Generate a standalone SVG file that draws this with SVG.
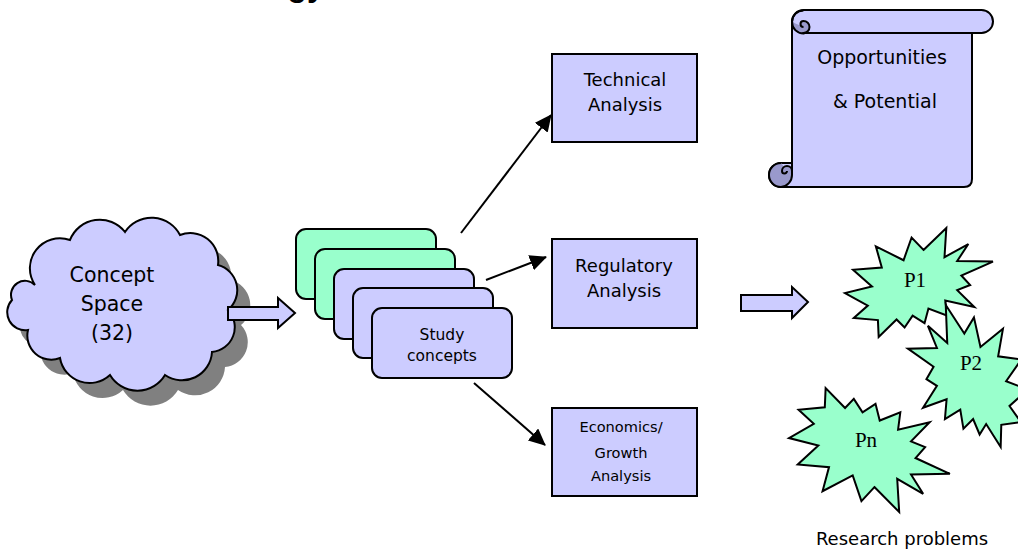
<svg xmlns="http://www.w3.org/2000/svg" width="1018" height="552" viewBox="0 0 1018 552">
<defs>
<style>
.box{fill:#CCCCFF;stroke:#000;stroke-width:2}
.card{stroke:#000;stroke-width:2}
.t{font-family:"DejaVu Sans",Verdana,sans-serif;fill:#000;text-anchor:middle}
.s{font-family:"Liberation Serif","Times New Roman",serif;fill:#000;text-anchor:middle;font-size:21px}
.burst{fill:#99FFCC;stroke:#000;stroke-width:2;stroke-linejoin:miter}
.conn{stroke:#000;stroke-width:2;fill:none;marker-end:url(#ah)}
.blk{fill:#CCCCFF;stroke:#000;stroke-width:2;stroke-linejoin:miter}
</style>
<marker id="ah" markerUnits="userSpaceOnUse" markerWidth="18" markerHeight="16" refX="16" refY="8" orient="auto">
<path d="M0,0 L17,8 L0,16 Z" fill="#000"/>
</marker>
</defs>
<rect width="1018" height="552" fill="#fff"/>

<text x="268" y="-4" style="font-family:'Liberation Sans',Arial,sans-serif;font-weight:bold;font-size:32px">ogy</text>

<g id="cloud">
<path transform="translate(13,15)" fill="#808080" d="M35,285 A30,30 0 0 1 70,240 A32,32 0 0 1 125,232 A32,32 0 0 1 180,235 A28,28 0 0 1 218,265 A26,26 0 0 1 228,310 A25,25 0 0 1 212,352 A30,30 0 0 1 165,375 A32,32 0 0 1 110,375 A30,30 0 0 1 60,358 A24,24 0 0 1 28,330 A18,18 0 0 1 12,300 A14,14 0 0 1 35,285 Z"/>
<path fill="#CCCCFF" stroke="#000" stroke-width="2" d="M35,285 A30,30 0 0 1 70,240 A32,32 0 0 1 125,232 A32,32 0 0 1 180,235 A28,28 0 0 1 218,265 A26,26 0 0 1 228,310 A25,25 0 0 1 212,352 A30,30 0 0 1 165,375 A32,32 0 0 1 110,375 A30,30 0 0 1 60,358 A24,24 0 0 1 28,330 A18,18 0 0 1 12,300 A14,14 0 0 1 35,285 Z"/>
<text class="t" font-size="20.5" x="112" y="282">Concept</text>
<text class="t" font-size="20.5" x="112" y="311">Space</text>
<text class="t" font-size="20.5" x="112" y="340">(32)</text>
</g>

<g id="arrow-cloud-stack">
<path class="blk" d="M228,307 L278,307 L278,298 L295,313 L278,328 L278,320 L228,320 Z"/>
</g>

<g id="study-concepts">
<rect class="card" fill="#99FFCC" x="296" y="229" width="140" height="70" rx="10"/>
<rect class="card" fill="#99FFCC" x="315" y="249" width="140" height="70" rx="10"/>
<rect class="card" fill="#CCCCFF" x="334" y="269" width="140" height="70" rx="10"/>
<rect class="card" fill="#CCCCFF" x="353" y="288" width="140" height="70" rx="10"/>
<rect class="card" fill="#CCCCFF" x="372" y="308" width="140" height="70" rx="10"/>
<text class="t" font-size="15.5" x="442" y="340">Study</text>
<text class="t" font-size="15.5" x="442" y="361">concepts</text>
</g>

<g id="connectors">
<line class="conn" x1="461" y1="233" x2="551" y2="115"/>
<line class="conn" x1="486" y1="280" x2="546" y2="257"/>
<line class="conn" x1="474" y1="383" x2="545" y2="445"/>
</g>

<g id="technical">
<rect class="box" x="552" y="54" width="145" height="88"/>
<text class="t" font-size="18" x="625" y="86">Technical</text>
<text class="t" font-size="18" x="625" y="111">Analysis</text>
</g>

<g id="regulatory">
<rect class="box" x="552" y="239" width="145" height="89"/>
<text class="t" font-size="18" x="624" y="272">Regulatory</text>
<text class="t" font-size="18" x="624" y="297">Analysis</text>
</g>

<g id="economics">
<rect class="box" x="552" y="408" width="145" height="88"/>
<text class="t" font-size="14.6" x="621" y="432">Economics/</text>
<text class="t" font-size="14.6" x="621" y="458">Growth</text>
<text class="t" font-size="14.6" x="621" y="481">Analysis</text>
</g>

<g id="scroll">
<path fill="#CCCCFF" stroke="#000" stroke-width="2" d="M792,22 L792,163 L781,163 A12,12 0 0 0 781,187 L964,187 Q972,187 972,179 L972,33"/>
<rect x="792" y="10" width="201" height="23" rx="11.5" fill="#CCCCFF" stroke="#000" stroke-width="2"/>
<path fill="#9999CC" stroke="#000" stroke-width="2" d="M792,22 A11.5,11.5 0 0 0 803.5,33.5 L803.5,33 A6,6 0 0 0 803.5,21 A3,3 0 0 0 803.5,27"/>
<path fill="none" stroke="#000" stroke-width="2" d="M792,22 A11.5,11.5 0 0 1 803.5,10.5"/>
<path fill="#9999CC" stroke="#000" stroke-width="2" d="M781,163 A12,12 0 0 0 781,187 A12,12 0 0 0 792,175 L792,171 A5,5 0 0 0 782,171 A2.5,2.5 0 0 0 787,171"/>
<path fill="none" stroke="#000" stroke-width="2" d="M792,175 L792,163"/>
<text class="t" font-size="19" x="882" y="64">Opportunities</text>
<text class="t" font-size="19" x="885" y="108">&amp; Potential</text>
</g>

<g id="arrow-to-problems">
<path class="blk" d="M741,295 L792,295 L792,287 L808,302 L792,318 L792,311 L741,311 Z"/>
</g>

<g id="p1">
<polygon class="burst" vector-effect="non-scaling-stroke" transform="translate(845,228) scale(0.685,0.505)" points="114.62,43.42 147.9,0 145.25,57.77 180.07,31.72 163.8,65.32 216,66.45 169.85,94.02 182.7,112.9 163.8,123.1 188.77,156.32 146.4,143.5 149.42,173.7 121.8,159.35 116.12,188.42 98.72,173.7 87,197.12 75.27,181.25 49.17,216 48.05,182.4 12.85,178.25 33.3,153.7 0,128.77 39.35,115.92 11.72,82.7 53.72,78.17 45.02,36.25 85.5,63.82 97.22,18.87"/>
<text class="s" x="915" y="287">P1</text>
</g>
<g id="p2">
<polygon class="burst" vector-effect="non-scaling-stroke" transform="translate(1028,305) scale(-0.556,0.657)" points="114.62,43.42 147.9,0 145.25,57.77 180.07,31.72 163.8,65.32 216,66.45 169.85,94.02 182.7,112.9 163.8,123.1 188.77,156.32 146.4,143.5 149.42,173.7 121.8,159.35 116.12,188.42 98.72,173.7 87,197.12 75.27,181.25 49.17,216 48.05,182.4 12.85,178.25 33.3,153.7 0,128.77 39.35,115.92 11.72,82.7 53.72,78.17 45.02,36.25 85.5,63.82 97.22,18.87"/>
<text class="s" x="971" y="370">P2</text>
</g>
<g id="pn">
<polygon class="burst" vector-effect="non-scaling-stroke" transform="translate(789,512) scale(0.745,-0.574)" points="114.62,43.42 147.9,0 145.25,57.77 180.07,31.72 163.8,65.32 216,66.45 169.85,94.02 182.7,112.9 163.8,123.1 188.77,156.32 146.4,143.5 149.42,173.7 121.8,159.35 116.12,188.42 98.72,173.7 87,197.12 75.27,181.25 49.17,216 48.05,182.4 12.85,178.25 33.3,153.7 0,128.77 39.35,115.92 11.72,82.7 53.72,78.17 45.02,36.25 85.5,63.82 97.22,18.87"/>
<text class="s" x="866" y="447">Pn</text>
</g>

<text class="t" font-size="18" x="902" y="545">Research problems</text>
</svg>
